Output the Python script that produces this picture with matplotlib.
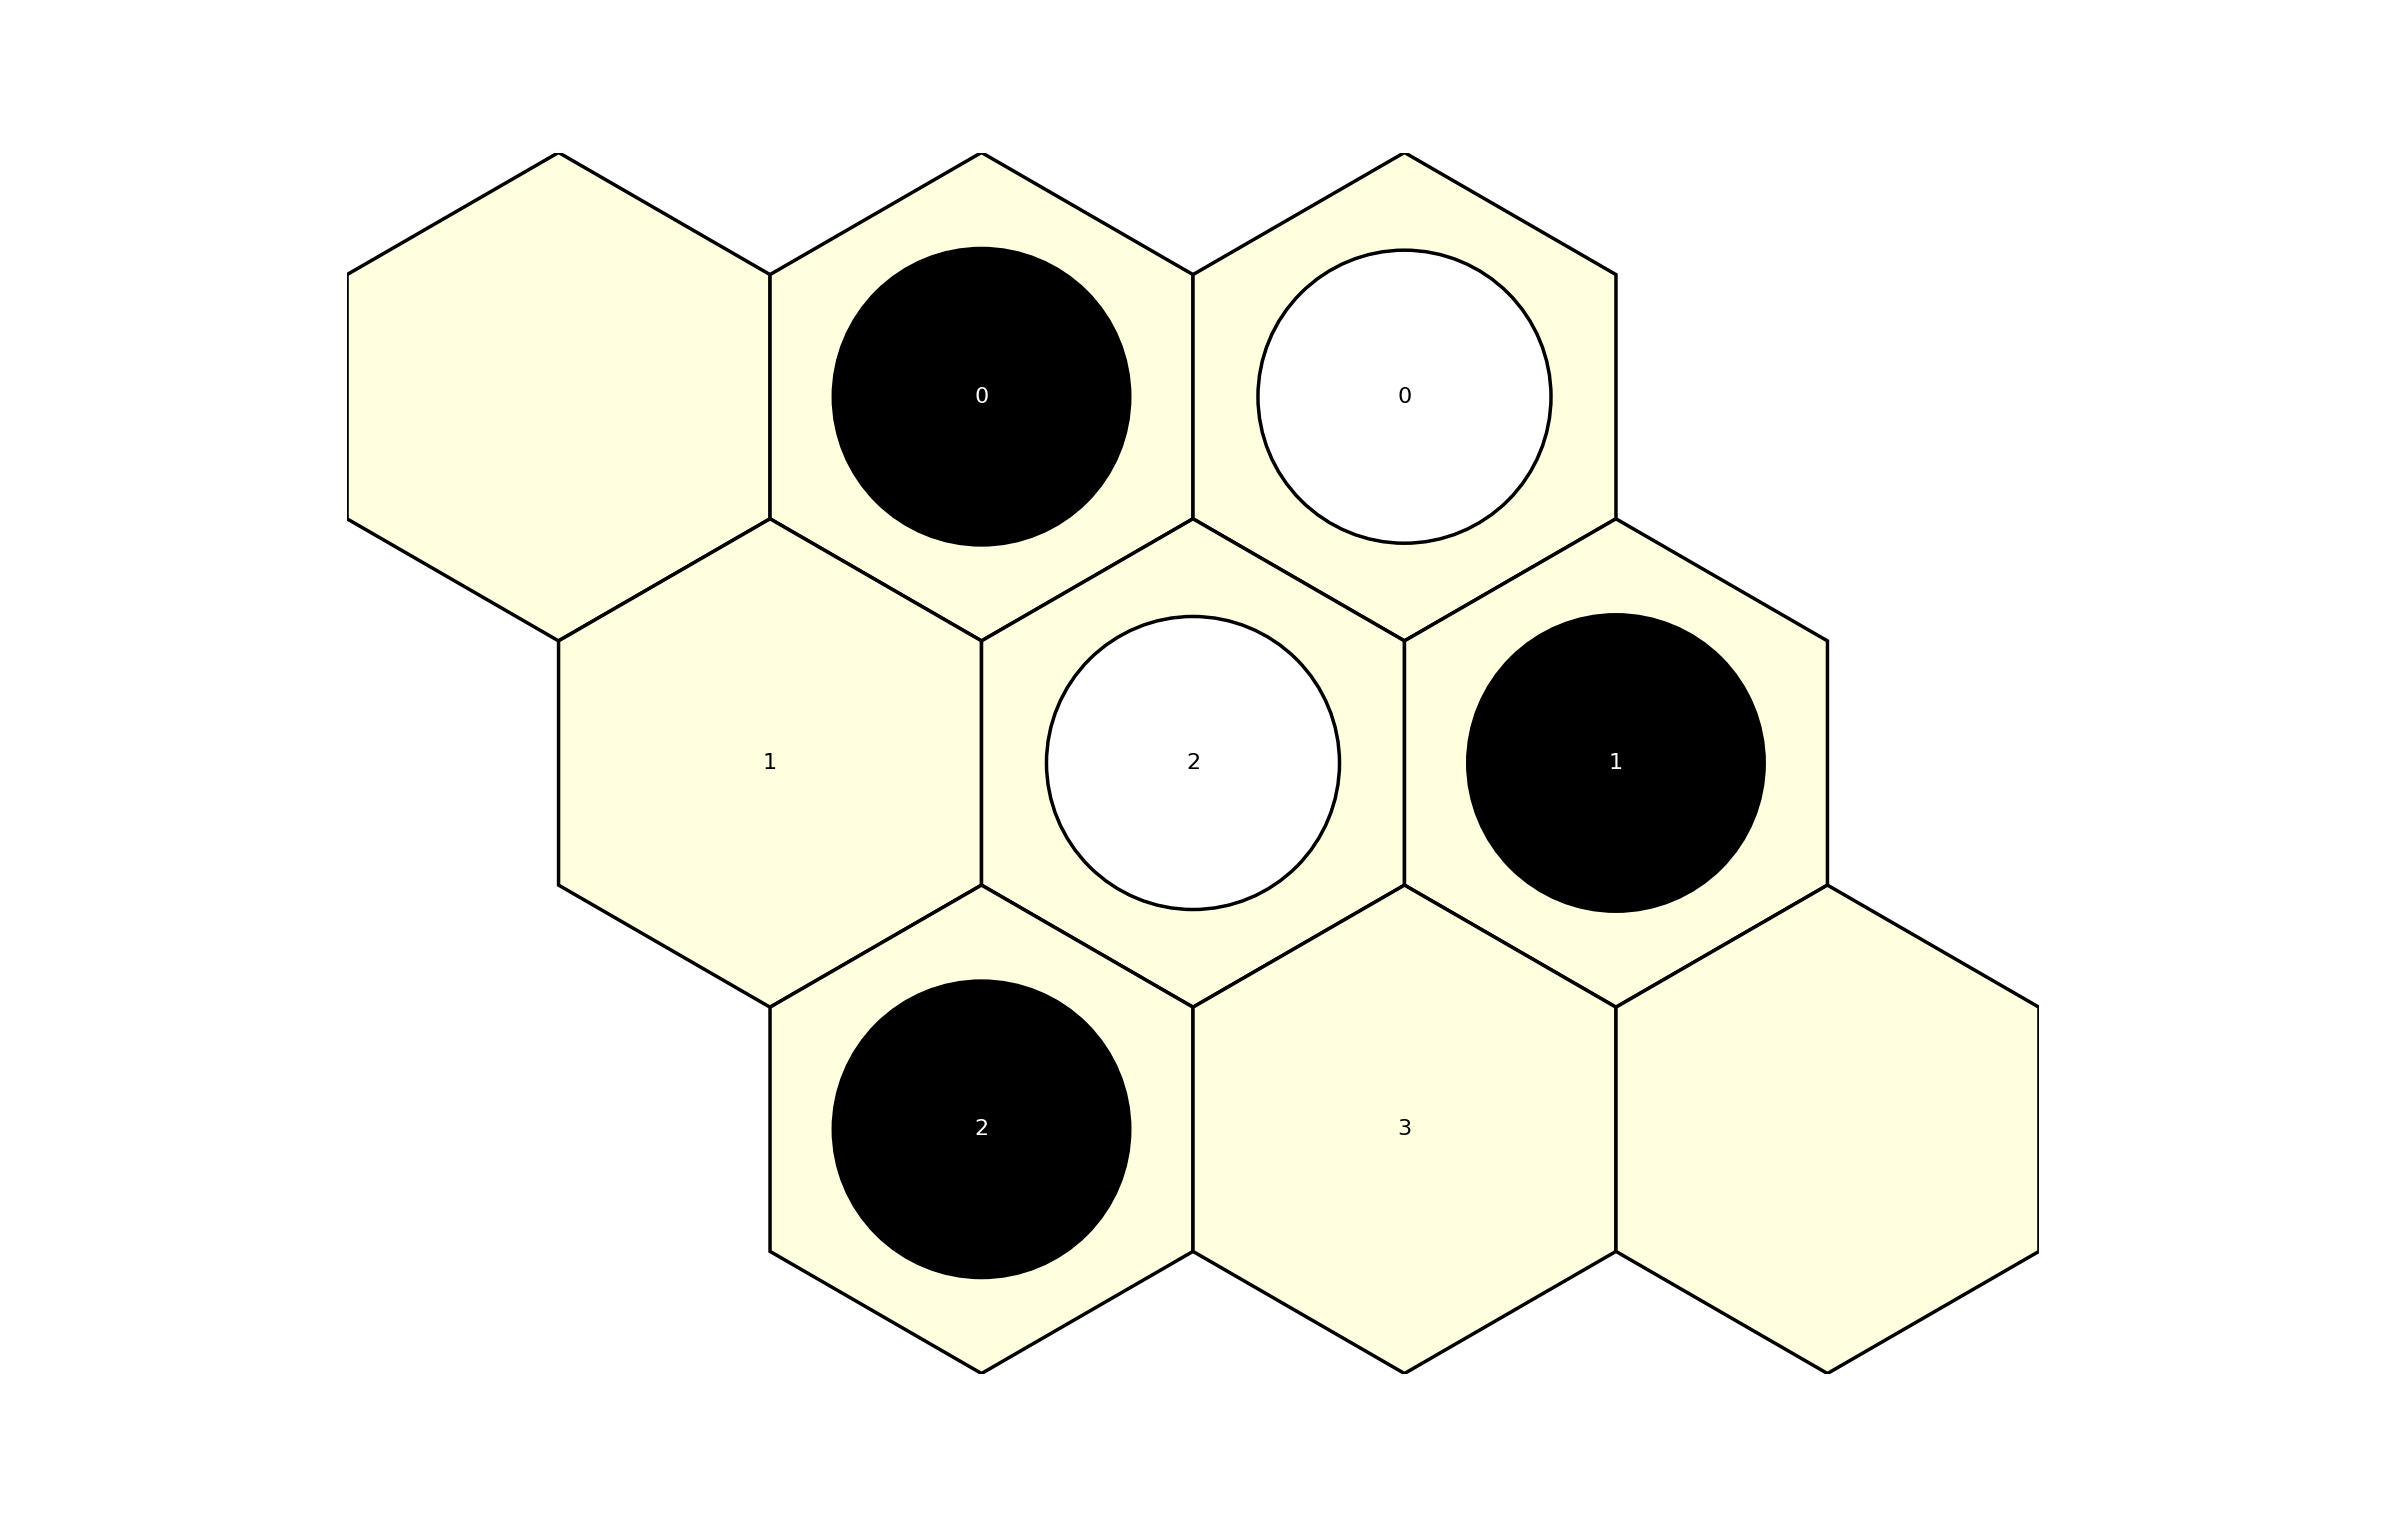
import matplotlib
matplotlib.use("Agg")
import matplotlib.pyplot as plt
from matplotlib.patches import RegularPolygon, Circle
import numpy as np

rows = [0,0,0,1,1,1,2,2,2]
cols = [0,1,2,0,1,2,0,1,2]
stones = [None,'black','white',None,'white','black','black',None,None]
labels = ['', '0', '0', '1', '2', '1', '2', '3', '']

fig = plt.figure(figsize=(23.85,15.24), dpi=100)
ax = fig.add_axes([345.5/2385, (1524-1373.5)/1524, 1695/2385, 1221/1524])
s3 = np.sqrt(3)
for r,c,st,lb in zip(rows,cols,stones,labels):
    x = s3*(c + r/2); y = -1.5*r
    ax.add_patch(RegularPolygon((x,y),6,radius=1,orientation=0,facecolor='lightyellow',edgecolor='black',lw=2.5))
    tc = 'black'
    if st == 'black':
        ax.add_patch(Circle((x,y),0.607,facecolor='black',edgecolor='black',lw=2.5,zorder=3)); tc='white'
    elif st == 'white':
        ax.add_patch(Circle((x,y),0.6,facecolor='white',edgecolor='black',lw=2.5,zorder=3))
    if lb:
        ax.text(x,y,lb,ha='center',va='center',fontsize=16,color=tc,zorder=4)
ax.set_xlim(-s3/2, 3.5*s3)
ax.set_ylim(-4,1)
ax.set_aspect('equal')
ax.axis('off')
fig.savefig('out.png')
